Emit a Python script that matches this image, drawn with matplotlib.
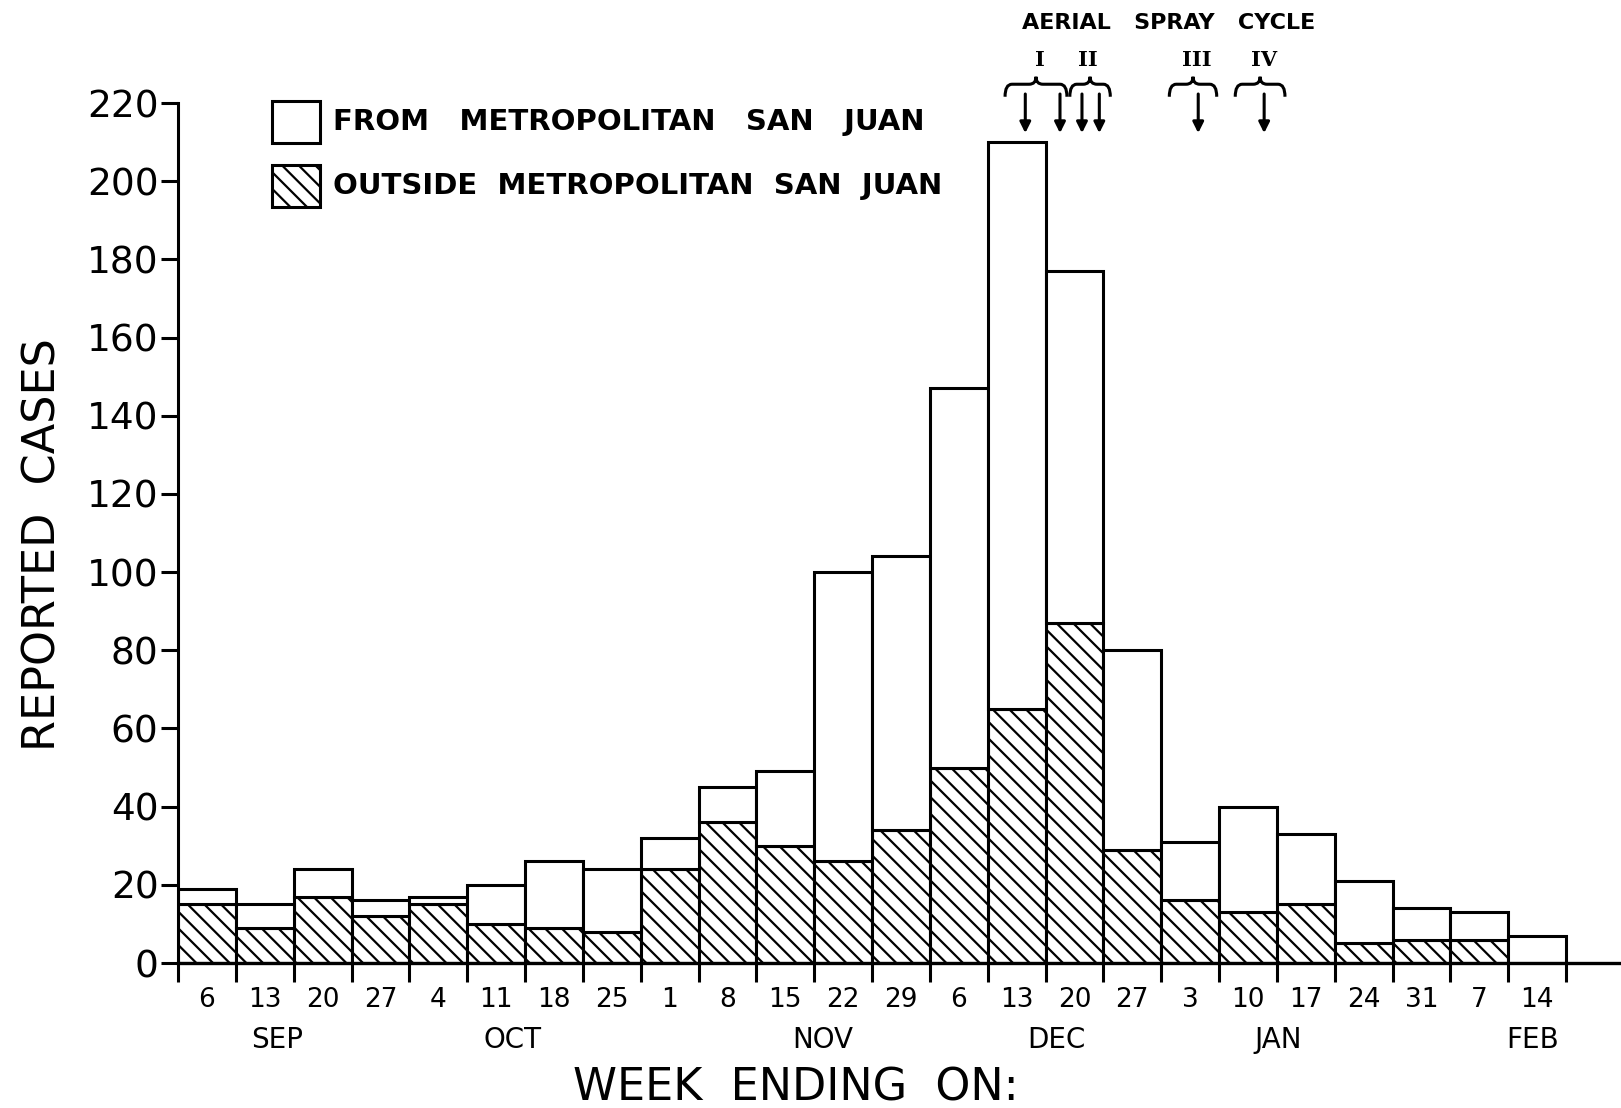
"""Reported dengue cases per week, Puerto Rico, split by metropolitan San Juan."""
import numpy as np
import matplotlib
matplotlib.use("Agg")
import matplotlib.pyplot as plt
from matplotlib.patches import Rectangle, PathPatch
from matplotlib.path import Path

# week-ending day labels (Sep .. Feb)
days = ["6", "13", "20", "27", "4", "11", "18", "25", "1", "8", "15", "22",
        "29", "6", "13", "20", "27", "3", "10", "17", "24", "31", "7", "14"]
# cases outside metropolitan San Juan (hatched)
outside = [15, 9, 17, 12, 15, 10, 9, 8, 24, 36, 30, 26,
           34, 50, 65, 87, 29, 16, 13, 15, 5, 6, 6, 0]
# cases from metropolitan San Juan (white, stacked on top)
metro = [4, 6, 7, 4, 2, 10, 17, 16, 8, 9, 19, 74,
         70, 97, 145, 90, 51, 15, 27, 18, 16, 8, 7, 7]
months = ["SEP", "OCT", "NOV", "DEC", "JAN", "FEB"]
month_pos = [1.71, 5.79, 11.15, 15.18, 19.02, 23.43]

# aerial spray cycles: label, label x, brace span, arrow positions (week units)
cycles = ["I", "II", "III", "IV"]
cycle_x = [14.91, 15.74, 17.62, 18.78]
brace_span = [(14.30, 15.37), (15.42, 16.12), (17.14, 17.96), (18.28, 19.14)]
spray_x = [14.65, 15.25, 15.63, 15.93, 17.64, 18.78]

plt.rcParams["hatch.linewidth"] = 1.6
plt.rcParams["font.family"] = "DejaVu Sans"

W, H = 1621, 1108
fig = plt.figure(figsize=(W / 100, H / 100), dpi=100)
ax = fig.add_axes([178 / W, 1 - 963 / H, 1 - 178 / W, (963 - 103) / H])

x = np.arange(len(days))
ax.bar(x, outside, width=1, align="edge", facecolor="white",
       edgecolor="black", hatch="\\\\", linewidth=2.2)
ax.bar(x, metro, bottom=outside, width=1, align="edge", facecolor="white",
       edgecolor="black", linewidth=2.2)

ax.set_xlim(0, 24.95)
ax.set_ylim(0, 220)
for s in ("top", "right"):
    ax.spines[s].set_visible(False)
ax.spines["left"].set_bounds(0, 220)
ax.spines["left"].set_linewidth(2.2)
ax.spines["bottom"].set_linewidth(2.4)

ax.set_yticks(range(0, 221, 20))
ax.tick_params(axis="y", direction="out", length=12, width=2.2,
               labelsize=27, pad=2)
ax.set_xticks(np.arange(len(days) + 1))
ax.set_xticklabels([])
ax.set_xticks(x + 0.5, minor=True)
ax.set_xticklabels(days, minor=True)
ax.tick_params(axis="x", which="major", direction="out", length=14, width=2.2)
ax.tick_params(axis="x", which="minor", length=0, labelsize=19, pad=17)

for m, p in zip(months, month_pos):
    ax.text(p, -0.09, m, transform=ax.get_xaxis_transform(),
            ha="center", va="center", fontsize=20)

fig.text(796 / W, 1 - 1088 / H, "WEEK  ENDING  ON:", ha="center",
         va="center", fontsize=32)
fig.text(43 / W, 1 - 545 / H, "REPORTED  CASES", rotation=90, ha="center",
         va="center", fontsize=32)

# legend drawn by hand, as in the original
aw, ah = W - 178, 963 - 103
bx0, bx1 = (272 - 178) / aw, (320 - 178) / aw
ax.add_patch(Rectangle((bx0, (963 - 143) / ah), bx1 - bx0, 42 / ah,
                       transform=ax.transAxes, facecolor="white",
                       edgecolor="black", lw=2.2, clip_on=False))
ax.add_patch(Rectangle((bx0, (963 - 207) / ah), bx1 - bx0, 42 / ah,
                       transform=ax.transAxes, facecolor="white",
                       edgecolor="black", hatch="\\\\", lw=2.2, clip_on=False))
tx = (333 - 178) / aw
ax.text(tx, (963 - 122) / ah, "FROM   METROPOLITAN   SAN   JUAN",
        transform=ax.transAxes, va="center", fontsize=21, fontweight="bold")
ax.text(tx, (963 - 186) / ah, "OUTSIDE  METROPOLITAN  SAN  JUAN",
        transform=ax.transAxes, va="center", fontsize=21, fontweight="bold")

# aerial spray cycle annotations
ax.text(17.13, 240.5, "AERIAL   SPRAY   CYCLE", ha="center", va="center",
        fontsize=16, fontweight="bold", clip_on=False)
for lab, cx in zip(cycles, cycle_x):
    ax.text(cx, 231.0, lab, ha="center", va="center", fontsize=15,
            fontweight="bold", family="DejaVu Serif", clip_on=False)


def brace(x0, x1, y, h=3.2, r=0.12):
    xm = (x0 + x1) / 2
    verts = [(x0, y - h), (x0, y), (x0 + r, y), (xm - r, y),
             (xm, y), (xm, y + h * 0.6), (xm, y), (xm + r, y),
             (x1 - r, y), (x1, y), (x1, y - h)]
    codes = [Path.MOVETO, Path.CURVE3, Path.CURVE3, Path.LINETO,
             Path.CURVE3, Path.CURVE3, Path.CURVE3, Path.CURVE3,
             Path.LINETO, Path.CURVE3, Path.CURVE3]
    return PathPatch(Path(verts, codes), fill=False, lw=2.2, clip_on=False)


for x0, x1 in brace_span:
    ax.add_patch(brace(x0, x1, 224.8))
for sx in spray_x:
    ax.annotate("", xy=(sx, 212.3), xytext=(sx, 222.3),
                arrowprops=dict(arrowstyle="-|>", lw=2.2, color="black",
                                mutation_scale=16, shrinkA=0, shrinkB=0),
                annotation_clip=False)

fig.savefig("out.png", dpi=100)
